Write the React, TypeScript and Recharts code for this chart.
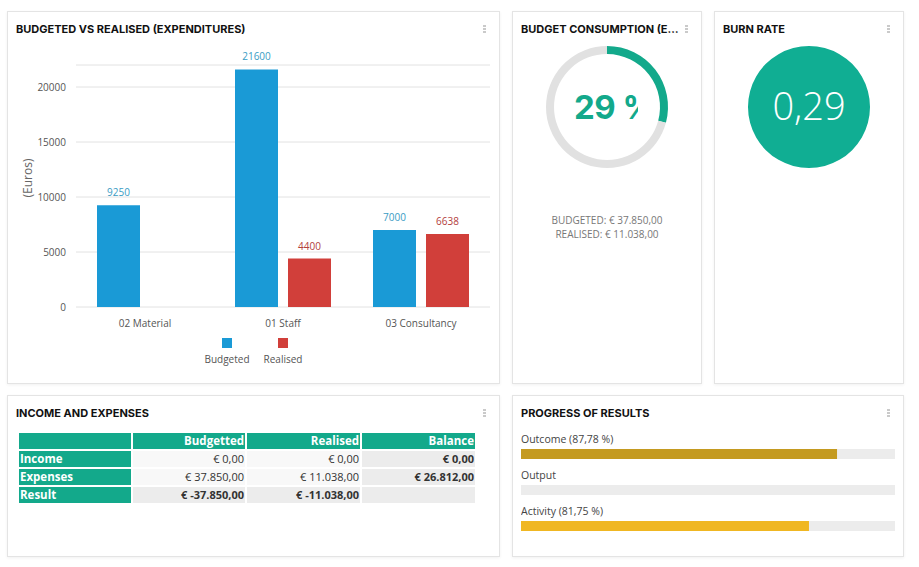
import React from 'react';
import { BarChart, Bar, XAxis, YAxis, CartesianGrid, LabelList, Legend, PieChart, Pie, Cell, Label } from 'recharts';

const categories = ['02 Material', '01 Staff', '03 Consultancy'];
const budgeted = [9250, 21600, 7000];
const realised: (number | null)[] = [null, 4400, 6638];
const yTicks = [0, 5000, 10000, 15000, 20000];

const consumptionNames = ['Realised', 'Remaining'];
const consumptionValues = [11038, 26812];
const consumptionText = '29 %';
const budgetLines = ['BUDGETED: € 37.850,00', 'REALISED: € 11.038,00'];
const burnValues = [1];
const burnText = '0,29';

const tableHead = ['', 'Budgetted', 'Realised', 'Balance'];
const tableRows = ['Income', 'Expenses', 'Result'];
const colBudgetted = ['€ 0,00', '€ 37.850,00', '€ -37.850,00'];
const colRealised = ['€ 0,00', '€ 11.038,00', '€ -11.038,00'];
const colBalance = ['€ 0,00', '€ 26.812,00', ''];

const progressLabels = ['Outcome (87,78 %)', 'Output', 'Activity (81,75 %)'];
const progressValues = [84.5, 0, 77];
const progressMax = [100, 100, 100];
const progressColors = ['#c49a20', '#f0b722', '#f0b722'];

const BLUE = '#1a9ad6';
const RED = '#d13f3a';
const TEAL = '#13a98b';
const FONT = '"Open Sans", sans-serif';
const TITLE_FONT = 'Inter, sans-serif';

const barData = categories.map((c, i) => ({ name: c, budgeted: budgeted[i], realised: realised[i] }));
const pieData = consumptionNames.map((n, i) => ({ name: n, value: consumptionValues[i] }));
const burnData = burnValues.map((v) => ({ name: 'burn', value: v }));
const progressData = progressLabels.map((l, i) => ({ name: l, track: progressMax[i], value: progressValues[i] }));

const panelStyle: React.CSSProperties = {
  position: 'absolute',
  boxSizing: 'border-box',
  border: '1px solid #e4e4e4',
  background: '#fff',
  boxShadow: '0 1px 3px rgba(0,0,0,0.06)',
};

function Panel({ x, y, w, h }: { x: number; y: number; w: number; h: number }) {
  return <div style={{ ...panelStyle, left: x, top: y, width: w, height: h }} />;
}

function Title({ x, y, w, text }: { x: number; y: number; w: number; text: string }) {
  return (
    <div
      style={{
        position: 'absolute',
        left: x,
        top: y,
        width: w,
        fontFamily: TITLE_FONT,
        fontWeight: 700,
        fontSize: 11,
        lineHeight: '14px',
        color: '#111',
        whiteSpace: 'nowrap',
        overflow: 'hidden',
        textOverflow: 'ellipsis',
      }}
    >
      {text}
    </div>
  );
}

function Dots({ x, y }: { x: number; y: number }) {
  return (
    <div style={{ position: 'absolute', left: x, top: y }}>
      {[0, 1, 2].map((i) => (
        <div key={i} style={{ width: 3, height: 2, background: '#cacaca', marginBottom: 1 }} />
      ))}
    </div>
  );
}

const LegendContent = () => (
  <div style={{ display: 'flex', justifyContent: 'center', paddingLeft: 12, height: 33, fontFamily: FONT, fontSize: 10, color: '#555' }}>
    {[
      ['Budgeted', BLUE],
      ['Realised', RED],
    ].map(([n, c]) => (
      <div key={n} style={{ width: 56, display: 'flex', flexDirection: 'column', alignItems: 'center' }}>
        <div style={{ width: 10, height: 10, background: c, marginTop: 1 }} />
        <div style={{ marginTop: 4, lineHeight: '14px' }}>{n}</div>
      </div>
    ))}
  </div>
);

const fmt = (v: any) => (v == null ? '' : String(v));

export default function App() {
  const cellBase: React.CSSProperties = {
    fontFamily: FONT,
    fontSize: 11,
    lineHeight: '16px',
    height: 16,
    textAlign: 'right',
    paddingRight: 1,
    color: '#333',
    whiteSpace: 'nowrap',
    overflow: 'hidden',
  };
  return (
    <div style={{ position: 'absolute', left: 0, top: 0, width: 919, height: 567, background: '#fff', overflow: 'hidden' }}>
      <Panel x={7} y={11} w={493} h={373} />
      <Panel x={512} y={11} w={190} h={373} />
      <Panel x={714} y={11} w={190} h={373} />
      <Panel x={7} y={395} w={493} h={162} />
      <Panel x={512} y={395} w={392} h={162} />

      <Title x={16} y={22} w={300} text="BUDGETED VS REALISED (EXPENDITURES)" />
      <Title x={521} y={22} w={162} text="BUDGET CONSUMPTION (EXPENDITURES)" />
      <Title x={723} y={22} w={120} text="BURN RATE" />
      <Title x={16} y={406} w={300} text="INCOME AND EXPENSES" />
      <Title x={521} y={406} w={300} text="PROGRESS OF RESULTS" />

      <Dots x={483} y={25} />
      <Dots x={685} y={25} />
      <Dots x={887} y={25} />
      <Dots x={483} y={409} />
      <Dots x={887} y={409} />

      <div style={{ position: 'absolute', left: 8, top: 40 }}>
        <BarChart
          width={491}
          height={330}
          data={barData}
          margin={{ top: 25, right: 9, bottom: 0, left: 0 }}
          barSize={43}
          barGap={10}
          barCategoryGap={21}
        >
          <CartesianGrid vertical={false} stroke="#e2e2e2" />
          <XAxis
            dataKey="name"
            axisLine={false}
            tickLine={false}
            height={30}
            tick={{ fontFamily: FONT, fontSize: 10, fill: '#555' }}
            tickMargin={7}
          />
          <YAxis
            width={68}
            domain={[0, 22000]}
            ticks={yTicks}
            axisLine={false}
            tickLine={false}
            tickMargin={4}
            tick={{ fontFamily: FONT, fontSize: 10, fill: '#555' }}
            label={{
              content: () => (
                <text
                  x={19}
                  y={138}
                  transform="rotate(-90 19 138)"
                  textAnchor="middle"
                  dominantBaseline="central"
                  style={{ fontFamily: FONT, fontSize: 12, fill: '#666' }}
                >
                  (Euros)
                </text>
              ),
            }}
          />
          <Legend verticalAlign="bottom" content={<LegendContent />} />
          <Bar dataKey="budgeted" fill={BLUE} isAnimationActive={false}>
            <LabelList dataKey="budgeted" position="top" offset={9} formatter={fmt} style={{ fontFamily: FONT, fontSize: 10, fill: '#3a9cc4' }} />
          </Bar>
          <Bar dataKey="realised" fill={RED} isAnimationActive={false}>
            <LabelList dataKey="realised" position="top" offset={9} formatter={fmt} style={{ fontFamily: FONT, fontSize: 10, fill: '#b3403c' }} />
          </Bar>
        </BarChart>
      </div>

      <div style={{ position: 'absolute', left: 513, top: 37 }}>
        <PieChart width={188} height={140} margin={{ top: 0, right: 0, bottom: 0, left: 0 }}>
          <Pie
            data={pieData}
            dataKey="value"
            cx={94}
            cy={70}
            innerRadius={53}
            outerRadius={61}
            startAngle={90}
            endAngle={-270}
            stroke="none"
            isAnimationActive={false}
          >
            <Cell fill={TEAL} />
            <Cell fill="#e1e1e1" />
          </Pie>
        </PieChart>
      </div>
      <div
        style={{
          position: 'absolute',
          left: 574,
          top: 91,
          width: 64,
          overflow: 'hidden',
          whiteSpace: 'nowrap',
          fontFamily: TITLE_FONT,
          fontWeight: 700,
          fontSize: 33,
          lineHeight: '33px',
          letterSpacing: -0.5,
          color: TEAL,
        }}
      >
        {consumptionText}
      </div>
      <div
        style={{
          position: 'absolute',
          left: 513,
          top: 213,
          width: 188,
          textAlign: 'center',
          fontFamily: FONT,
          fontSize: 10,
          lineHeight: '14px',
          color: '#777',
        }}
      >
        {budgetLines.map((l) => (
          <div key={l}>{l}</div>
        ))}
      </div>

      <div style={{ position: 'absolute', left: 715, top: 37 }}>
        <PieChart width={188} height={140} margin={{ top: 0, right: 0, bottom: 0, left: 0 }}>
          <Pie data={burnData} dataKey="value" cx={94} cy={70} outerRadius={61} stroke="none" isAnimationActive={false}>
            <Cell fill="#10ae93" />
            <Label
              value={burnText}
              position="center"
              style={{ fontFamily: FONT, fontWeight: 300, fontSize: 38, fill: '#fff' }}
            />
          </Pie>
        </PieChart>
      </div>

      <div
        style={{
          position: 'absolute',
          left: 19,
          top: 433,
          display: 'grid',
          gridTemplateColumns: '112px 112px 113px 113px',
          gridAutoRows: '16px',
          columnGap: 2,
          rowGap: 2,
        }}
      >
        {tableHead.map((h, i) => (
          <div key={'h' + i} style={{ ...cellBase, background: TEAL, color: '#fff', fontWeight: 700, fontSize: 11.5 }}>
            {h}
          </div>
        ))}
        {tableRows.map((r, ri) => {
          const isResult = ri === 2;
          const light = isResult ? '#ececec' : '#f8f8f8';
          return (
            <React.Fragment key={r}>
              <div style={{ ...cellBase, background: TEAL, color: '#fff', fontWeight: 700, fontSize: 11.5, textAlign: 'left', paddingLeft: 1 }}>{r}</div>
              <div style={{ ...cellBase, background: light, fontWeight: isResult ? 700 : 400 }}>{colBudgetted[ri]}</div>
              <div style={{ ...cellBase, background: light, fontWeight: isResult ? 700 : 400 }}>{colRealised[ri]}</div>
              <div style={{ ...cellBase, background: '#ececec', fontWeight: 700 }}>{colBalance[ri]}</div>
            </React.Fragment>
          );
        })}
      </div>

      <div style={{ position: 'absolute', left: 521, top: 421 }}>
        <BarChart
          width={374}
          height={123}
          data={progressData}
          layout="vertical"
          margin={{ top: 15, right: 0, bottom: 0, left: 0 }}
          barSize={10}
          barGap={-10}
        >
          <XAxis type="number" domain={[0, 100]} hide />
          <YAxis type="category" dataKey="name" hide />
          <Bar dataKey="track" fill="#ececec" isAnimationActive={false}>
            <LabelList
              dataKey="name"
              content={(p: any) => (
                <text x={p.x} y={p.y - 6} style={{ fontFamily: FONT, fontSize: 10.5, fill: '#444' }}>
                  {p.value}
                </text>
              )}
            />
          </Bar>
          <Bar dataKey="value" isAnimationActive={false}>
            {progressData.map((d, i) => (
              <Cell key={d.name} fill={progressColors[i]} />
            ))}
          </Bar>
        </BarChart>
      </div>
    </div>
  );
}
